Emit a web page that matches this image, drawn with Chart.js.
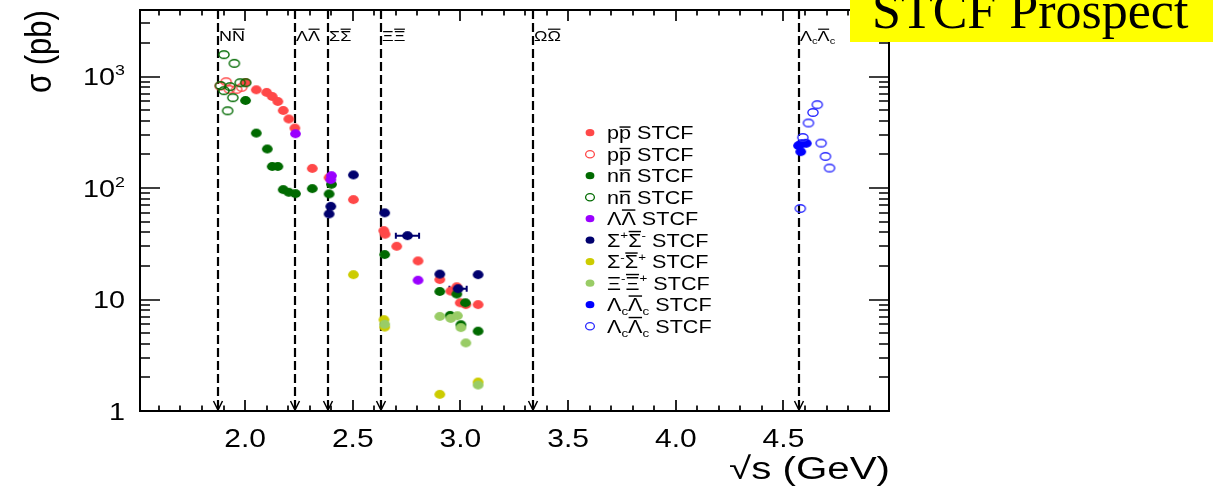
<!DOCTYPE html>
<html><head><meta charset="utf-8">
<script src="https://cdn.jsdelivr.net/npm/chart.js@4.4.0/dist/chart.umd.min.js"></script>
<style>html,body{margin:0;padding:0;background:#fff;overflow:hidden}</style>
</head><body>
<canvas id="c" width="1213" height="486"></canvas>
<script>
// ---------------- data ----------------
const ppFilledX = [2.002, 2.052, 2.100, 2.126, 2.152, 2.177, 2.203, 2.231, 2.312, 2.390, 2.503, 2.644, 2.650, 2.704, 2.803, 2.904, 2.955, 2.983, 2.999, 3.025, 3.082];
const ppFilledY = [884, 760, 720, 662, 597, 496, 416, 345, 150, 124, 78.7, 41.5, 38.5, 30, 22.2, 15.1, 11.9, 13.0, 9.35, 9.0, 9.0];
const ppOpenX = [1.884, 1.912, 1.927, 1.961, 1.984];
const ppOpenY = [822, 898, 767, 767, 800];
const nnFilledX = [2.002, 2.052, 2.103, 2.126, 2.152, 2.177, 2.203, 2.234, 2.312, 2.390, 2.401, 2.648, 2.904, 2.952, 2.983, 3.002, 3.023, 3.082];
const nnFilledY = [610, 311, 224, 156, 156, 96.8, 91.6, 89, 98.8, 88.5, 108, 25.3, 11.8, 7.2, 11.2, 5.94, 9.35, 5.2];
const nnOpenX = [1.902, 1.950, 1.886, 1.902, 1.930, 1.943, 1.919, 1.977, 2.003];
const nnOpenY = [1570, 1313, 830, 747, 811, 646, 493, 880, 880];
const llX = [2.234, 2.401, 2.398, 2.803];
const llY = [307, 129, 119, 14.9];
const sigPlusX = [2.390, 2.398, 2.503, 2.648, 2.754, 2.904, 2.989, 3.082];
const sigPlusY = [58.6, 68.5, 131, 59.9, 37.4, 16.9, 12.5, 16.7];
const sigPlusXErr = [0, 0, 0, 0, 0.054, 0, 0.040, 0];
const sigMinusX = [2.503, 2.645, 2.648, 2.904, 3.082];
const sigMinusY = [16.7, 6.6, 5.66, 1.41, 1.82];
const xiX = [2.648, 2.904, 2.955, 2.986, 3.002, 3.025, 3.082];
const xiY = [6.0, 7.05, 6.77, 7.15, 5.6, 4.08, 1.71];
const lcFilledX = [4.570, 4.585, 4.606, 4.580];
const lcFilledY = [240, 250, 252, 212];
const lcOpenX = [4.657, 4.637, 4.616, 4.590, 4.675, 4.695, 4.714, 4.578];
const lcOpenY = [559, 476, 383, 284, 253, 192, 151, 65.5];

const thresholds = [1.876, 2.234, 2.386, 2.629, 3.339, 4.574];
const thresholdLabels = [
  [{t:'N'},{t:'N',bar:1}],
  [{t:'\u039B'},{t:'\u039B',bar:1}],
  [{t:'\u03A3'},{t:'\u03A3',bar:1}],
  [{t:'\u039E'},{t:'\u039E',bar:1}],
  [{t:'\u03A9'},{t:'\u03A9',bar:1}],
  [{t:'\u039B'},{t:'c',sub:1},{t:'\u039B',bar:1},{t:'c',sub:1}]
];
const xTickValues = [2.0, 2.5, 3.0, 3.5, 4.0, 4.5];
const xTickLabels = ['2.0', '2.5', '3.0', '3.5', '4.0', '4.5'];
const yTickValues = [1, 10, 100, 1000];
const yTickLabels = [[{t:'1'}], [{t:'10'}], [{t:'10'},{t:'2',sup:1}], [{t:'10'},{t:'3',sup:1}]];
const legendLabels = [
  [{t:'p'},{t:'p',bar:1},{t:' STCF'}],
  [{t:'p'},{t:'p',bar:1},{t:' STCF'}],
  [{t:'n'},{t:'n',bar:1},{t:' STCF'}],
  [{t:'n'},{t:'n',bar:1},{t:' STCF'}],
  [{t:'\u039B'},{t:'\u039B',bar:1},{t:' STCF'}],
  [{t:'\u03A3'},{t:'+',sup:1},{t:'\u03A3',bar:1},{t:'-',sup:1},{t:' STCF'}],
  [{t:'\u03A3'},{t:'-',sup:1},{t:'\u03A3',bar:1},{t:'+',sup:1},{t:' STCF'}],
  [{t:'\u039E'},{t:'-',sup:1},{t:'\u039E',bar:1},{t:'+',sup:1},{t:' STCF'}],
  [{t:'\u039B'},{t:'c',sub:1},{t:'\u039B',bar:1},{t:'c',sub:1},{t:' STCF'}],
  [{t:'\u039B'},{t:'c',sub:1},{t:'\u039B',bar:1},{t:'c',sub:1},{t:' STCF'}]
];
const xTitle = '\u221As (GeV)';
const yTitle = '\u03C3 (pb)';
const bannerText = 'STCF Prospect';

// ---------------- styles ----------------
const RED = '#ff4848', DGREEN = '#006a00', PURPLE = '#9a00ff', NAVY = '#00006e',
      YELLOW = '#cccc00', LGREEN = '#99cc66', BLUE = '#0000ff', OBLUE = '#2a2aff';
const FAMILY = '"Liberation Sans", Arial, sans-serif';
const SX = 1.2;

function marker(color, filled, rx, ry, lw) {
  const c = document.createElement('canvas');
  const w = Math.ceil(2 * rx + 4), h = Math.ceil(2 * ry + 4);
  c.width = w; c.height = h;
  const g = c.getContext('2d');
  g.beginPath();
  if (filled) { g.ellipse(w / 2, h / 2, rx, ry, 0, 0, Math.PI * 2); g.fillStyle = color; g.fill(); }
  else { g.ellipse(w / 2, h / 2, rx - lw / 2, ry - lw / 2, 0, 0, Math.PI * 2); g.strokeStyle = color; g.lineWidth = lw; g.stroke(); }
  return c;
}
function pts(xs, ys, errs) { return xs.map((x, i) => ({x: x, y: ys[i], xerr: errs ? errs[i] : 0})); }

const series = [
  {data: pts(ppFilledX, ppFilledY), color: RED, filled: true},
  {data: pts(ppOpenX, ppOpenY), color: RED, filled: false},
  {data: pts(nnFilledX, nnFilledY), color: DGREEN, filled: true},
  {data: pts(nnOpenX, nnOpenY), color: DGREEN, filled: false},
  {data: pts(llX, llY), color: PURPLE, filled: true},
  {data: pts(sigPlusX, sigPlusY, sigPlusXErr), color: NAVY, filled: true},
  {data: pts(sigMinusX, sigMinusY), color: YELLOW, filled: true},
  {data: pts(xiX, xiY), color: LGREEN, filled: true},
  {data: pts(lcFilledX, lcFilledY), color: BLUE, filled: true},
  {data: pts(lcOpenX, lcOpenY), color: OBLUE, filled: false}
];

const datasets = series.map((s, i) => ({
  data: s.data,
  pointStyle: s.filled ? marker(s.color, true, 5.4, 4.4, 0) : marker(s.color, false, 5.8, 4.5, 1.4),
  pointRadius: 5,
  pointHoverRadius: 5,
  backgroundColor: s.color,
  borderColor: s.color,
  showLine: false,
  order: series.length - i
}));

// ---------------- text helpers ----------------
function rich(ctx, segs, x, y, size, family, sx, align) {
  let total = 0;
  const items = segs.map(s => {
    const fs = (s.sup || s.sub) ? size * 0.62 : size;
    ctx.font = fs + 'px ' + family;
    const m = ctx.measureText(s.t);
    const w = m.width * sx;
    total += w;
    return {s: s, fs: fs, w: w, asc: m.actualBoundingBoxAscent};
  });
  let cx = align === 'right' ? x - total : align === 'center' ? x - total / 2 : x;
  ctx.textAlign = 'left'; ctx.textBaseline = 'alphabetic';
  items.forEach(it => {
    const dy = it.s.sup ? -size * 0.42 : it.s.sub ? size * 0.22 : 0;
    ctx.font = it.fs + 'px ' + family;
    ctx.save(); ctx.translate(cx, y + dy); ctx.scale(sx, 1); ctx.fillText(it.s.t, 0, 0); ctx.restore();
    if (it.s.bar) {
      const by = y + dy - it.asc - Math.max(1.5, size * 0.12);
      ctx.save(); ctx.lineWidth = Math.max(1, size * 0.08);
      ctx.beginPath(); ctx.moveTo(cx + 0.5, by); ctx.lineTo(cx + it.w - 0.5, by); ctx.stroke(); ctx.restore();
    }
    cx += it.w;
  });
  return total;
}

const decor = {
  id: 'decor',
  beforeDatasetsDraw(chart) {
    const ctx = chart.ctx, a = chart.chartArea, xs = chart.scales.x;
    ctx.save();
    ctx.strokeStyle = '#000'; ctx.fillStyle = '#000';
    thresholds.forEach((t, i) => {
      const px = Math.round(xs.getPixelForValue(t));
      ctx.lineWidth = 2.2; ctx.setLineDash([9, 4]);
      ctx.beginPath(); ctx.moveTo(px, a.top); ctx.lineTo(px, a.bottom - 1); ctx.stroke();
      ctx.setLineDash([]); ctx.lineWidth = 1.5;
      ctx.beginPath(); ctx.moveTo(px - 4.5, a.bottom - 10); ctx.lineTo(px, a.bottom - 1); ctx.lineTo(px + 4.5, a.bottom - 10); ctx.stroke();
      rich(ctx, thresholdLabels[i], px + 1, 41, 15, FAMILY, 1.2, 'left');
    });
    // error bars
    series.forEach(s => s.data.forEach(p => {
      if (!p.xerr) return;
      const y = chart.scales.y.getPixelForValue(p.y);
      const x1 = xs.getPixelForValue(p.x - p.xerr), x2 = xs.getPixelForValue(p.x + p.xerr);
      ctx.strokeStyle = s.color; ctx.lineWidth = 2;
      ctx.beginPath(); ctx.moveTo(x1, y); ctx.lineTo(x2, y);
      ctx.moveTo(x1, y - 3); ctx.lineTo(x1, y + 3); ctx.moveTo(x2, y - 3); ctx.lineTo(x2, y + 3); ctx.stroke();
    }));
    ctx.restore();
  },
  afterDatasetsDraw(chart) {
    const ctx = chart.ctx, a = chart.chartArea, xs = chart.scales.x, ys = chart.scales.y;
    ctx.save();
    ctx.strokeStyle = '#000'; ctx.fillStyle = '#000'; ctx.setLineDash([]);
    // frame
    ctx.lineWidth = 2;
    ctx.strokeRect(a.left, a.top, a.right - a.left, a.bottom - a.top);
    // x ticks
    ctx.lineWidth = 1.7;
    ctx.beginPath();
    for (let k = 16; k <= 49; k++) {
      const v = k / 10;
      const major = xTickValues.some(t => Math.abs(t - v) < 1e-6);
      const len = major ? 11 : 5.5;
      const px = Math.round(xs.getPixelForValue(v)) ;
      ctx.moveTo(px, a.bottom); ctx.lineTo(px, a.bottom - len);
      ctx.moveTo(px, a.top); ctx.lineTo(px, a.top + len);
    }
    // y ticks
    for (let d = 0; d <= 3; d++) {
      for (let m = 1; m <= 9; m++) {
        const v = m * Math.pow(10, d);
        if (v > ys.max) break;
        const len = m === 1 ? 20 : 10;
        const py = Math.round(ys.getPixelForValue(v));
        ctx.moveTo(a.left, py); ctx.lineTo(a.left + len, py);
        ctx.moveTo(a.right, py); ctx.lineTo(a.right - len, py);
      }
    }
    ctx.stroke();
    // tick labels
    xTickValues.forEach((v, i) => rich(ctx, [{t: xTickLabels[i]}], xs.getPixelForValue(v), 447, 25, FAMILY, SX, 'center'));
    yTickValues.forEach((v, i) => rich(ctx, yTickLabels[i], 125, ys.getPixelForValue(v) + 8.8, 24, FAMILY, SX, 'right'));
    // titles
    rich(ctx, [{t: xTitle}], 890, 479, 31, FAMILY, 1.3, 'right');
    ctx.save();
    ctx.font = '31px ' + FAMILY; ctx.textAlign = 'left'; ctx.textBaseline = 'alphabetic';
    ctx.translate(51, 93); ctx.scale(SX, 1); ctx.rotate(-Math.PI / 2);
    ctx.fillText(yTitle, 0, 0);
    ctx.restore();
    // legend
    const lx = 590, ly0 = 132.7, step = 21.5;
    series.forEach((s, i) => {
      const cy = ly0 + i * step;
      ctx.beginPath();
      if (s.filled) { ctx.ellipse(lx, cy, 4.4, 3.6, 0, 0, Math.PI * 2); ctx.fillStyle = s.color; ctx.fill(); }
      else { ctx.ellipse(lx, cy, 4.4, 3.6, 0, 0, Math.PI * 2); ctx.strokeStyle = s.color; ctx.lineWidth = 1.3; ctx.stroke(); }
      ctx.fillStyle = '#000'; ctx.strokeStyle = '#000';
      rich(ctx, legendLabels[i], 607, cy + 6.5, 18, FAMILY, SX, 'left');
    });
    // banner
    ctx.fillStyle = '#ffff00';
    ctx.fillRect(850, 0, 363, 42);
    ctx.fillStyle = '#000';
    rich(ctx, [{t: bannerText}], 872, 28, 52, '"Liberation Serif", "Times New Roman", serif', 1.0, 'left');
    ctx.restore();
  }
};

new Chart(document.getElementById('c'), {
  type: 'scatter',
  data: {datasets: datasets},
  options: {
    responsive: false,
    animation: false,
    events: [],
    layout: {padding: {left: 140, right: 324, top: 10, bottom: 75}},
    plugins: {legend: {display: false}, tooltip: {enabled: false}},
    scales: {
      x: {type: 'linear', min: 1.512, max: 4.99, grid: {display: false}, border: {display: false},
          ticks: {display: false}, afterFit(s) { s.height = 0; }},
      y: {type: 'logarithmic', min: 1, max: 3950, grid: {display: false}, border: {display: false},
          ticks: {display: false}, afterFit(s) { s.width = 0; }}
    }
  },
  plugins: [decor]
});
</script>
</body></html>
